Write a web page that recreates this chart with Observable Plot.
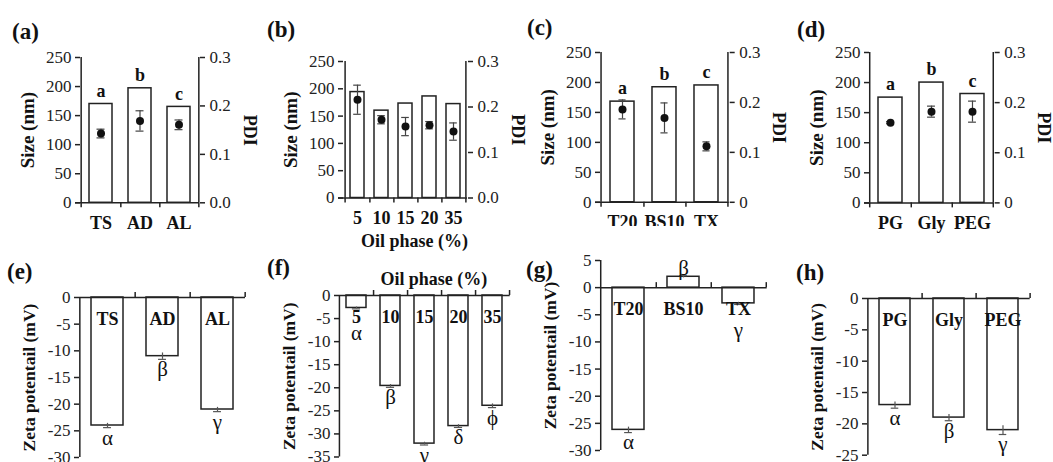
<!DOCTYPE html>
<html><head><meta charset="utf-8">
<script src="https://cdn.jsdelivr.net/npm/d3@7"></script>
<script src="https://cdn.jsdelivr.net/npm/@observablehq/plot@0.6"></script>
<style>
html,body{margin:0;padding:0;background:#fff;}
#root{position:relative;width:1053px;height:462px;overflow:hidden;background:#fff;font-family:"Liberation Serif","Times New Roman",serif;}
.tag{position:absolute;font-weight:bold;font-size:23px;line-height:23px;color:#111;font-family:"Liberation Serif","Times New Roman",serif;}
</style></head><body><div id="root"></div>
<script>
// ---------- data ----------
const aCats = ["TS","AD","AL"];
const aSize = [170, 197, 165];
const aPdi = [0.143, 0.169, 0.161];
const aPdiErr = [0.009, 0.021, 0.010];
const aLetters = ["a","b","c"];

const bCats = ["5","10","15","20","35"];
const bSize = [194, 160, 173, 186, 172];
const bPdi = [0.216, 0.172, 0.157, 0.160, 0.146];
const bPdiErr = [0.032, 0.009, 0.020, 0.008, 0.019];

const cCats = ["T20","BS10","TX"];
const cSize = [168, 192, 195];
const cPdi = [0.186, 0.169, 0.112];
const cPdiErr = [0.019, 0.030, 0.009];
const cLetters = ["a","b","c"];

const dCats = ["PG","Gly","PEG"];
const dSize = [175, 200, 181];
const dPdi = [0.160, 0.182, 0.182];
const dPdiErr = [0.002, 0.011, 0.021];
const dLetters = ["a","b","c"];

const sizeTicks = [0, 50, 100, 150, 200, 250];
const pdiTicks = [0, 0.1, 0.2, 0.3];
const pdiLabelsAB = ["0.0","0.1","0.2","0.3"];
const pdiLabelsCD = ["0","0.1","0.2","0.3"];

const eCats = ["TS","AD","AL"];
const eZeta = [-24.0, -11.0, -21.0];
const eErr = [0.4, 0.6, 0.4];
const eGreek = ["α","β","γ"];
const eTicks = [0,-5,-10,-15,-20,-25,-30];

const fCats = ["5","10","15","20","35"];
const fZeta = [-2.7, -19.6, -32.1, -28.3, -23.9];
const fErr = [0.2, 0.3, 0.3, 0.3, 0.4];
const fGreek = ["α","β","γ","δ","ϕ"];
const fTicks = [0,-5,-10,-15,-20,-25,-30,-35];

const gCats = ["T20","BS10","TX"];
const gZeta = [-26.2, 2.0, -2.9];
const gErr = [0.5, 0.2, 0.2];
const gGreek = ["α","β","γ"];
const gTicks = [5,0,-5,-10,-15,-20,-25,-30];

const hCats = ["PG","Gly","PEG"];
const hZeta = [-17.0, -19.0, -21.0];
const hErr = [0.5, 0.5, 0.7];
const hGreek = ["α","β","γ"];
const hTicks = [0,-5,-10,-15,-20,-25];

const sizeTitle = "Size (nm)";
const pdiTitle = "PDI";
const zetaTitle = "Zeta potentail (mV)";
const oilTitle = "Oil phase (%)";
const tags = ["(a)","(b)","(c)","(d)","(e)","(f)","(g)","(h)"];

// ---------- layout ----------
const root = document.getElementById("root");
const FONT = "Liberation Serif, Times New Roman, serif";
const INK = "#222";
const ML = 70, MR = 64, MT = 34, MB = 56, PAD = 0.42, GREEK_MIN = -6, TICKFS = 17;

function place(svg, l, t) {
  svg.style.position = "absolute";
  svg.style.left = (l - ML) + "px";
  svg.style.top = (t - MT) + "px";
  svg.style.maxWidth = "none";
  root.appendChild(svg);
}
function base(cats, frame, bg) {
  const [l, r, t, b] = frame;
  return {
    width: (r - l) + ML + MR, height: (b - t) + MT + MB,
    marginLeft: ML, marginRight: MR, marginTop: MT, marginBottom: MB,
    style: {fontFamily: FONT, fontSize: TICKFS + "px", color: INK, background: bg, overflow: "visible"},
    x: {domain: cats, paddingInner: PAD, paddingOuter: PAD / 2, axis: null}
  };
}

function topPanel({cats, size, pdi, pdiErr, letters, pdiLabels, frame, xTitle}) {
  const [l, r, t, b] = frame;
  const W = r - l, H = b - t, n = cats.length, step = W / n, bw = step * (1 - PAD);
  const rows = cats.map((c, i) => ({cat: c, size: size[i], pdi: pdi[i], e: pdiErr[i], letter: letters ? letters[i] : ""}));
  const p1 = Plot.plot({
    ...base(cats, frame, "white"),
    y: {domain: [0, 250], axis: null},
    marks: [
      Plot.barY(rows, {x: "cat", y: "size", fill: "white", stroke: INK, strokeWidth: 1.5}),
      Plot.ruleY([0], {stroke: INK, strokeWidth: 1.5, insetLeft: -5}),
      Plot.ruleX([cats[0]], {x: d => d, dx: -step / 2, stroke: INK, strokeWidth: 1.5}),
      Plot.ruleX(cats, {x: d => d, dx: step / 2, insetTop: H - 5, dy: 5, stroke: INK, strokeWidth: 1.5}),
      Plot.ruleX([cats[0]], {x: d => d, dx: -step / 2, insetTop: H - 5, dy: 5, stroke: INK, strokeWidth: 1.5}),
      Plot.axisY({ticks: sizeTicks, label: null, tickFormat: d => String(d), tickSize: 5, tickPadding: 4, stroke: INK, strokeWidth: 1.5, fontSize: TICKFS, fontFamily: FONT, fill: INK}),
      Plot.text(rows, {x: "cat", frameAnchor: "bottom", lineAnchor: "middle", text: "cat", dy: 20, fontWeight: "bold", fontSize: 18, fontFamily: FONT, fill: "#111"}),
      Plot.text(rows, {x: "cat", y: "size", text: "letter", dy: -13, fontWeight: "bold", fontSize: 18, fontFamily: FONT, fill: "#111"}),
      Plot.text([sizeTitle], {text: d => d, frameAnchor: "left", textAnchor: "middle", lineAnchor: "middle", dx: -53, rotate: -90, fontWeight: "bold", fontSize: 19, fontFamily: FONT, fill: "#111"}),
      xTitle ? Plot.text([xTitle], {text: d => d, frameAnchor: "bottom", lineAnchor: "middle", dx: 9, dy: 43, fontWeight: "bold", fontSize: 18, fontFamily: FONT, fill: "#111"}) : null
    ]
  });
  place(p1, l, t);
  const p2 = Plot.plot({
    ...base(cats, frame, "transparent"),
    y: {domain: [0, 0.3], axis: null},
    marks: [
      Plot.ruleX(rows, {x: "cat", y1: d => d.pdi - d.e, y2: d => d.pdi + d.e, stroke: "#444", strokeWidth: 1.2}),
      Plot.tickY(rows, {x: "cat", y: d => d.pdi - d.e, stroke: "#444", strokeWidth: 1.2, insetLeft: bw / 2 - 4, insetRight: bw / 2 - 4}),
      Plot.tickY(rows, {x: "cat", y: d => d.pdi + d.e, stroke: "#444", strokeWidth: 1.2, insetLeft: bw / 2 - 4, insetRight: bw / 2 - 4}),
      Plot.dot(rows, {x: "cat", y: "pdi", r: 4, fill: "#111"}),
      Plot.ruleX([cats[n - 1]], {x: d => d, dx: step / 2, stroke: INK, strokeWidth: 1.5}),
      Plot.axisY({anchor: "right", label: null, ticks: pdiTicks, tickFormat: d => pdiLabels[pdiTicks.indexOf(d)], tickSize: 5, tickPadding: 5, stroke: INK, strokeWidth: 1.5, fontSize: TICKFS, fontFamily: FONT, fill: INK}),
      Plot.text([pdiTitle], {text: d => d, frameAnchor: "right", textAnchor: "middle", lineAnchor: "middle", dx: 50, rotate: 90, fontWeight: "bold", fontSize: 18, fontFamily: FONT, fill: "#111"})
    ]
  });
  place(p2, l, t);
}

function botPanel({cats, zeta, err, greek, yTicks, frame, title}) {
  const [l, r, t, b] = frame;
  const W = r - l, n = cats.length, step = W / n, bw = step * (1 - PAD);
  const rows = cats.map((c, i) => ({cat: c, z: zeta[i], e: err[i], g: greek[i]}));
  const p = Plot.plot({
    ...base(cats, frame, "white"),
    y: {domain: [yTicks[yTicks.length - 1], yTicks[0]], axis: null},
    marks: [
      Plot.barY(rows, {x: "cat", y: "z", fill: "white", stroke: INK, strokeWidth: 1.5}),
      Plot.ruleX(rows, {x: "cat", y1: d => d.z - d.e, y2: d => d.z + d.e, stroke: "#555", strokeWidth: 1.2}),
      Plot.tickY(rows, {x: "cat", y: d => d.z < 0 ? d.z - d.e : d.z + d.e, stroke: "#555", strokeWidth: 1.2, insetLeft: bw / 2 - 4, insetRight: bw / 2 - 4}),
      Plot.ruleY([0], {stroke: INK, strokeWidth: 1.5}),
      Plot.ruleX(cats, {x: d => d, dx: step / 2, y1: () => 0, y2: () => 0, insetTop: -5, stroke: INK, strokeWidth: 1.5}),
      Plot.ruleX([cats[0]], {x: d => d, dx: -step / 2, stroke: INK, strokeWidth: 1.5}),
      Plot.axisY({ticks: yTicks, label: null, tickFormat: d => String(d), tickSize: 5, tickPadding: 4, stroke: INK, strokeWidth: 1.5, fontSize: TICKFS, fontFamily: FONT, fill: INK}),
      Plot.text(rows, {x: "cat", y: () => 0, text: "cat", dy: 22, fontWeight: "bold", fontSize: 18, fontFamily: FONT, fill: "#111"}),
      Plot.text(rows.filter(d => d.z < 0), {x: "cat", y: d => Math.min(d.z - d.e, GREEK_MIN), text: "g", lineAnchor: "top", dy: 2, fontSize: 21, fontFamily: FONT, fill: "#111"}),
      Plot.text(rows.filter(d => d.z >= 0), {x: "cat", y: d => d.z + d.e, text: "g", lineAnchor: "bottom", dy: -1, fontSize: 21, fontFamily: FONT, fill: "#111"}),
      Plot.text([zetaTitle], {text: d => d, frameAnchor: "left", textAnchor: "middle", lineAnchor: "middle", dx: -50, rotate: -90, fontWeight: "bold", fontSize: 17.5, fontFamily: FONT, fill: "#111"}),
      title ? Plot.text([title], {text: d => d, frameAnchor: "top", lineAnchor: "middle", dx: 9, dy: -16, fontWeight: "bold", fontSize: 18, fontFamily: FONT, fill: "#111"}) : null
    ]
  });
  place(p, l, t);
}

topPanel({cats: aCats, size: aSize, pdi: aPdi, pdiErr: aPdiErr, letters: aLetters, pdiLabels: pdiLabelsAB, frame: [80, 199, 56.7, 202]});
topPanel({cats: bCats, size: bSize, pdi: bPdi, pdiErr: bPdiErr, letters: null, pdiLabels: pdiLabelsAB, frame: [342.7, 466.7, 60.5, 197], xTitle: oilTitle});
topPanel({cats: cCats, size: cSize, pdi: cPdi, pdiErr: cPdiErr, letters: cLetters, pdiLabels: pdiLabelsCD, frame: [600, 728.7, 51.7, 201.5]});
topPanel({cats: dCats, size: dSize, pdi: dPdi, pdiErr: dPdiErr, letters: dLetters, pdiLabels: pdiLabelsCD, frame: [869.3, 994, 52.3, 202.7]});

botPanel({cats: eCats, zeta: eZeta, err: eErr, greek: eGreek, yTicks: eTicks, frame: [79, 245, 296.7, 456.7]});
botPanel({cats: fCats, zeta: fZeta, err: fErr, greek: fGreek, yTicks: fTicks, frame: [339.3, 510, 294.5, 456], title: oilTitle});
botPanel({cats: gCats, zeta: gZeta, err: gErr, greek: gGreek, yTicks: gTicks, frame: [600, 766.7, 260, 450]});
botPanel({cats: hCats, zeta: hZeta, err: hErr, greek: hGreek, yTicks: hTicks, frame: [867.3, 1030, 298.3, 455]});

// panel tags
const tagPos = [[12,20],[267,18],[527,16],[797,18],[7,260],[267,256],[526,258],[796,261]];
tags.forEach((s, i) => {
  const d = document.createElement("div");
  d.className = "tag"; d.textContent = s;
  d.style.left = tagPos[i][0] + "px"; d.style.top = tagPos[i][1] + "px";
  root.appendChild(d);
});
</script></body></html>
